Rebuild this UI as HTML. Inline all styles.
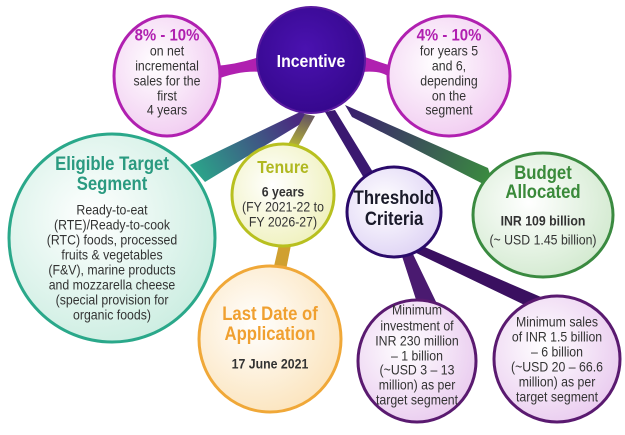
<!DOCTYPE html>
<html><head><meta charset="utf-8"><style>
html,body{margin:0;padding:0;background:#fff;}
svg text{font-family:"Liberation Sans Narrow","Liberation Sans",sans-serif;text-anchor:middle;dominant-baseline:middle;transform-box:fill-box;transform-origin:center;transform:scaleX(0.88);}
.b{font-size:14px;fill:#333;}
.h{font-weight:bold;}
</style></head><body>
<svg width="625" height="430" viewBox="0 0 625 430" xmlns="http://www.w3.org/2000/svg">
<defs>
<radialGradient id="gp" cx="40%" cy="40%" r="70%"><stop offset="0" stop-color="#fff"/><stop offset="1" stop-color="#f0c8f0"/></radialGradient>
<radialGradient id="gt" cx="40%" cy="40%" r="70%"><stop offset="0" stop-color="#fff"/><stop offset="1" stop-color="#c8ecdf"/></radialGradient>
<radialGradient id="gy" cx="40%" cy="40%" r="70%"><stop offset="0" stop-color="#fff"/><stop offset="1" stop-color="#eef0b8"/></radialGradient>
<radialGradient id="go" cx="40%" cy="40%" r="70%"><stop offset="0" stop-color="#fff"/><stop offset="1" stop-color="#fbe2b8"/></radialGradient>
<radialGradient id="gv" cx="40%" cy="40%" r="70%"><stop offset="0" stop-color="#fff"/><stop offset="1" stop-color="#dcd0f4"/></radialGradient>
<radialGradient id="gg" cx="40%" cy="40%" r="70%"><stop offset="0" stop-color="#fff"/><stop offset="1" stop-color="#cfe8cc"/></radialGradient>
<radialGradient id="gm" cx="40%" cy="40%" r="70%"><stop offset="0" stop-color="#fff"/><stop offset="1" stop-color="#e8c8ee"/></radialGradient>
<radialGradient id="gi" cx="45%" cy="40%" r="60%"><stop offset="0" stop-color="#4a12b0"/><stop offset="1" stop-color="#36088e"/></radialGradient>
<linearGradient id="l1" x1="290" y1="110" x2="190" y2="170" gradientUnits="userSpaceOnUse"><stop offset="0" stop-color="#4a2a80"/><stop offset="1" stop-color="#2aa88a"/></linearGradient>
<linearGradient id="l2" x1="340" y1="110" x2="490" y2="175" gradientUnits="userSpaceOnUse"><stop offset="0" stop-color="#3a1a70"/><stop offset="1" stop-color="#3a8a40"/></linearGradient>
<linearGradient id="l3" x1="300" y1="115" x2="290" y2="150" gradientUnits="userSpaceOnUse"><stop offset="0" stop-color="#6a5a60"/><stop offset="1" stop-color="#c0c030"/></linearGradient>
</defs>
<polygon points="300,112 312,117 205,182 190,165" fill="url(#l1)"/>
<polygon points="345,105 352,117 495,190 488,168" fill="url(#l2)"/>
<polygon points="305,114 315,116 296,150 286,148" fill="url(#l3)"/>
<polygon points="325,112 335,110 390,200 378,202" fill="#3a1870"/>
<path d="M215,66 Q240,64 262,56 L262,72 Q240,70 215,80 Z" fill="#b020b0"/>
<path d="M392,66 Q385,64 362,56 L362,72 Q385,70 392,80 Z" fill="#b020b0"/>
<polygon points="280,240 292,240 285,275 272,275" fill="#d0a030"/>
<polygon points="400,250 412,252 440,310 420,312" fill="#4a1a70"/>
<polygon points="410,250 420,245 548,300 535,310" fill="#3a1060"/>
<ellipse cx="167" cy="76" rx="53" ry="60" fill="url(#gp)" stroke="#b020b0" stroke-width="3"/>
<ellipse cx="449" cy="76" rx="61" ry="60" fill="url(#gp)" stroke="#b020b0" stroke-width="3"/>
<ellipse cx="311" cy="60" rx="54" ry="53" fill="url(#gi)" stroke="#5a1aa0" stroke-width="2"/>
<ellipse cx="112" cy="238" rx="103" ry="104" fill="url(#gt)" stroke="#2aa88a" stroke-width="3"/>
<ellipse cx="283" cy="195" rx="51" ry="51" fill="url(#gy)" stroke="#b8c020" stroke-width="3"/>
<ellipse cx="270" cy="339" rx="71" ry="73" fill="url(#go)" stroke="#f0a838" stroke-width="3"/>
<ellipse cx="394" cy="212" rx="47" ry="45" fill="url(#gv)" stroke="#2a0a6a" stroke-width="3"/>
<ellipse cx="543" cy="215" rx="70" ry="62" fill="url(#gg)" stroke="#3a8a40" stroke-width="3"/>
<ellipse cx="417" cy="361" rx="59" ry="61" fill="url(#gm)" stroke="#5a1a70" stroke-width="3"/>
<ellipse cx="557" cy="359" rx="63" ry="63" fill="url(#gm)" stroke="#5a1a70" stroke-width="3"/>
<g class="b">
<text x="167" y="36" class="h" style="font-size:17px;fill:#b020b0">8% - 10%</text>
<text x="167" y="52">on net</text><text x="167" y="67">incremental</text><text x="167" y="82">sales for the</text><text x="167" y="97">first</text><text x="167" y="111">4 years</text>
<text x="449" y="36" class="h" style="font-size:17px;fill:#b020b0">4% - 10%</text>
<text x="449" y="52">for years 5</text><text x="449" y="67">and 6,</text><text x="449" y="82">depending</text><text x="449" y="97">on the</text><text x="449" y="111">segment</text>
<text x="311" y="62" class="h" style="font-size:18px;fill:#fff">Incentive</text>
<text x="112" y="165" class="h" style="font-size:19px;fill:#2a9a80">Eligible Target</text>
<text x="112" y="185" class="h" style="font-size:19px;fill:#2a9a80">Segment</text>
<text x="112" y="211">Ready-to-eat</text><text x="112" y="226">(RTE)/Ready-to-cook</text><text x="112" y="241">(RTC) foods, processed</text><text x="112" y="256">fruits &amp; vegetables</text><text x="112" y="271">(F&amp;V), marine products</text><text x="112" y="286">and mozzarella cheese</text><text x="112" y="301">(special provision for</text><text x="112" y="316">organic foods)</text>
<text x="283" y="168" class="h" style="font-size:18px;fill:#b0b820">Tenure</text>
<text x="283" y="193" class="h">6 years</text><text x="283" y="208">(FY 2021-22 to</text><text x="283" y="223">FY 2026-27)</text>
<text x="394" y="199" class="h" style="font-size:19px;fill:#1a1a2a">Threshold</text>
<text x="394" y="220" class="h" style="font-size:19px;fill:#1a1a2a">Criteria</text>
<text x="543" y="174" class="h" style="font-size:19px;fill:#3a8a3a">Budget</text>
<text x="543" y="193" class="h" style="font-size:19px;fill:#3a8a3a">Allocated</text>
<text x="543" y="222" class="h">INR 109 billion</text><text x="543" y="241">(~ USD 1.45 billion)</text>
<text x="270" y="315" class="h" style="font-size:19px;fill:#f0a030">Last Date of</text>
<text x="270" y="335" class="h" style="font-size:19px;fill:#f0a030">Application</text>
<text x="270" y="365" class="h">17 June 2021</text>
<text x="417" y="311">Minimum</text><text x="417" y="327">investment of</text><text x="417" y="342">INR 230 million</text><text x="417" y="357">– 1 billion</text><text x="417" y="371">(~USD 3 – 13</text><text x="417" y="386">million) as per</text><text x="417" y="401">target segment</text>
<text x="557" y="323">Minimum sales</text><text x="557" y="338">of INR 1.5 billion</text><text x="557" y="353">– 6 billion</text><text x="557" y="368">(~USD 20 – 66.6</text><text x="557" y="383">million) as per</text><text x="557" y="398">target segment</text>
</g>
</svg>
</body></html>
